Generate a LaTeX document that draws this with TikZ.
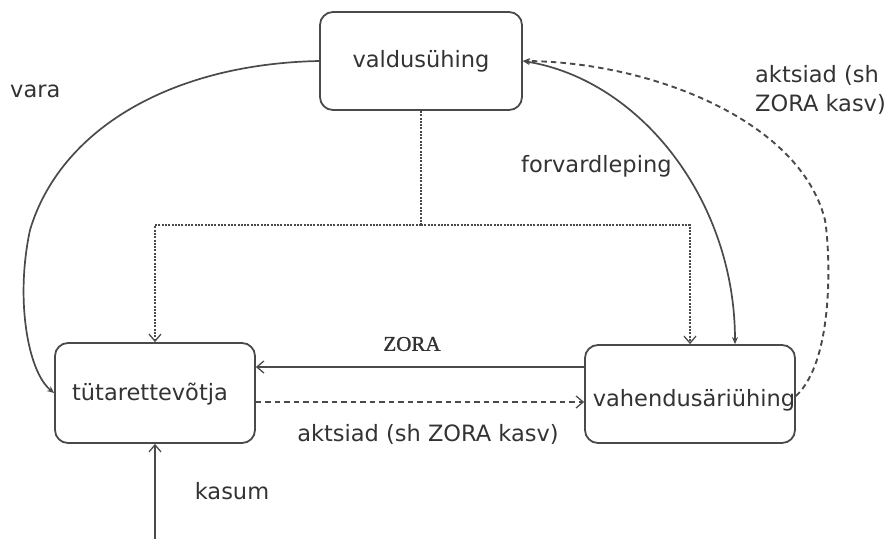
\documentclass[tikz,border=0pt]{standalone}
\usepackage{fontspec}
\setmainfont{DejaVu Sans}
\newfontfamily\zorafont[FakeBold=1.2]{Liberation Serif}
\usetikzlibrary{arrows.meta}
\definecolor{ink}{HTML}{333333}
\definecolor{wire}{HTML}{4A4A4A}
\begin{document}
\begin{tikzpicture}[x=1pt,y=-1pt,
  box/.style={draw=wire,line width=1.8pt,rounded corners=13pt,inner sep=0pt,text=ink,font=\fontsize{22.5}{26}\selectfont},
  lbl/.style={text=ink,font=\fontsize{22.5}{29}\selectfont,inner sep=0pt},
  wireline/.style={draw=wire,line width=1.7pt},
  openhead/.style={-{Straight Barb[length=7pt,width=12pt,line width=1.3pt]}},
  fillhead/.style={-{Stealth[length=7pt,width=6pt]}},
  dotline/.style={dash pattern=on 2pt off 1.3pt,line width=2.2pt},
  dashline/.style={dash pattern=on 5.5pt off 4pt,line width=1.9pt}]
\useasboundingbox (0,0) rectangle (887,539);
\node[box,minimum width=202pt,minimum height=98pt] (valdus) at (421,61) {valdusühing};
\node[box,minimum width=200pt,minimum height=100pt] (tutar) at (155,393) {};
\node[lbl] at (150,394) {tütarettevõtja};
\node[box,minimum width=210pt,minimum height=98pt] (vahend) at (690,394) {};
\node[lbl] at (694,400) {vahendusäriühing};
\coordinate (j) at (421,225);
\coordinate (kbot) at (155,539);
% dotted tree
\draw[wireline,dotline] (valdus.south) -- (j);
\draw[wireline,dotline,openhead] (j) -| (tutar.north);
\draw[wireline,dotline,openhead] (j) -| (vahend.north);
% vara
\draw[wireline,fillhead] (valdus.west) .. controls (170,64) and (60,130) .. (30,230) .. controls (15,300) and (28,372) .. (tutar.west);
\node[lbl,anchor=west] at (10,91) {vara};
% forvardleping
\draw[wireline,{Stealth[length=7pt,width=6pt]}-{Stealth[length=7pt,width=6pt]}] (valdus.east) .. controls (640,80) and (735,200) .. ([xshift=45pt]vahend.north);
\node[lbl,anchor=west] at (521,166) {forvardleping};
% aktsiad dashed right
\draw[wireline,dashline,fillhead] ([yshift=-2pt]vahend.east) .. controls (835,360) and (830,250) .. (825,220) .. controls (800,120) and (650,62) .. (valdus.east);
\node[lbl,anchor=west,align=left] at (755,90) {aktsiad (sh\\ZORA kasv)};
% ZORA
\draw[wireline,openhead] ([yshift=27pt]vahend.west) -- ([yshift=26pt]tutar.east);
\node[text=ink,inner sep=0pt,font=\zorafont\fontsize{21}{23}\selectfont] at (412,344) {ZORA};
% aktsiad bottom
\draw[wireline,dashline,openhead] ([yshift=-9pt]tutar.east) -- ([yshift=-8pt]vahend.west);
\node[lbl] at (428,434) {aktsiad (sh ZORA kasv)};
% kasum
\draw[wireline,openhead] (kbot) -- (tutar.south);
\node[lbl] at (232,491) {kasum};
\end{tikzpicture}
\end{document}
